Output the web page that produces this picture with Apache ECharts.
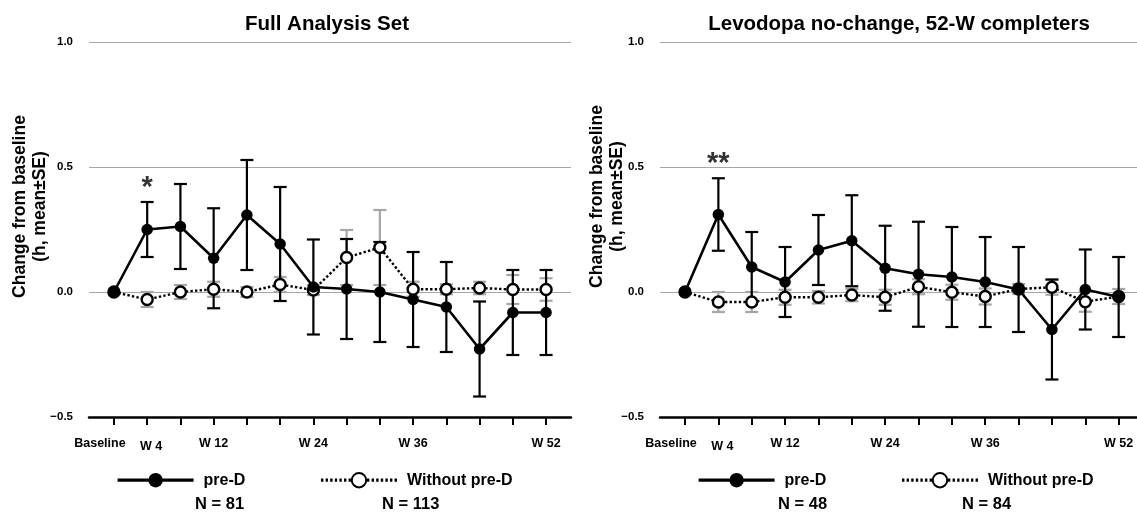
<!DOCTYPE html>
<html>
<head>
<meta charset="utf-8">
<script src="https://cdn.jsdelivr.net/npm/echarts@6/dist/echarts.min.js"></script>
<style>html,body{margin:0;padding:0;background:#fff}#c{width:1137px;height:512px}</style>
</head>
<body>
<div id="c"></div>
<script>
// ---- data ----
const weeks = [0, 4, 8, 12, 16, 20, 24, 28, 32, 36, 40, 44, 48, 52];
const labelWeeks = [0, 4, 12, 24, 36, 52];
const labelText = {0: 'Baseline', 4: 'W 4', 12: 'W 12', 24: 'W 24', 36: 'W 36', 52: 'W 52'};
const yTicks = [-0.5, 0, 0.5, 1.0];

// Full Analysis Set
const fasPreD     = [0, 0.250, 0.262, 0.135, 0.308, 0.192, 0.020, 0.012, 0.000, -0.030, -0.060, -0.228, -0.082, -0.082];
const fasPreDSE   = [0, 0.110, 0.170, 0.200, 0.220, 0.228, 0.190, 0.200, 0.200, 0.190, 0.180, 0.190, 0.170, 0.170];
const fasNoD      = [0, -0.030, 0.000, 0.011, 0.000, 0.030, 0.008, 0.138, 0.178, 0.011, 0.011, 0.016, 0.010, 0.010];
const fasNoDSE    = [0, 0.030, 0.028, 0.030, 0.020, 0.030, 0.020, 0.110, 0.150, 0.030, 0.020, 0.025, 0.058, 0.045];

// Levodopa no-change, 52-W completers
const lncPreD     = [0, 0.310, 0.100, 0.040, 0.168, 0.205, 0.095, 0.071, 0.060, 0.040, 0.010, -0.150, 0.010, -0.020];
const lncPreDSE   = [0, 0.145, 0.140, 0.140, 0.140, 0.182, 0.170, 0.210, 0.200, 0.180, 0.170, 0.200, 0.160, 0.160];
const lncNoD      = [0, -0.040, -0.040, -0.021, -0.021, -0.012, -0.021, 0.021, -0.001, -0.018, 0.012, 0.019, -0.039, -0.018];
const lncNoDSE    = [0, 0.040, 0.040, 0.030, 0.025, 0.025, 0.030, 0.030, 0.030, 0.032, 0.020, 0.030, 0.040, 0.030];

const titles = ['Full Analysis Set', 'Levodopa no-change, 52-W completers'];
const seriesNames = ['pre-D', 'Without pre-D'];
const nLabels = [['N = 81', 'N = 113'], ['N = 48', 'N = 84']];
const sigMarks = [{week: 4, text: '*'}, {week: 4, text: '**'}];

// ---- helpers ----
const FONT = '"Liberation Sans", Arial, sans-serif';
function pts(vals) { return weeks.map((w, i) => [w, vals[i]]); }
function errs(vals, se) {
  const out = [];
  weeks.forEach((w, i) => { if (se[i] > 0) out.push([w, vals[i] - se[i], vals[i] + se[i]]); });
  return out;
}
function errRender(color, cap) {
  return function (params, api) {
    const x = api.value(0);
    const pLo = api.coord([x, api.value(1)]);
    const pHi = api.coord([x, api.value(2)]);
    const style = {stroke: color, lineWidth: 2.2};
    return {type: 'group', children: [
      {type: 'line', shape: {x1: pLo[0], y1: pLo[1], x2: pHi[0], y2: pHi[1]}, style: style},
      {type: 'line', shape: {x1: pHi[0] - cap, y1: pHi[1], x2: pHi[0] + cap, y2: pHi[1]}, style: style},
      {type: 'line', shape: {x1: pLo[0] - cap, y1: pLo[1], x2: pLo[0] + cap, y2: pLo[1]}, style: style}
    ]};
  };
}

const panels = [
  {pre: fasPreD, preSE: fasPreDSE, no: fasNoD, noSE: fasNoDSE},
  {pre: lncPreD, preSE: lncPreDSE, no: lncNoD, noSE: lncNoDSE}
];
// right panel is cut by the picture edge: its axis runs to week 54.2 there
const grids = [
  {left: 89, top: 42, width: 482, height: 375, xMax: 55, nameGap: 39},
  {left: 660, top: 42, width: 477, height: 375, xMax: 54.2, nameGap: 33}
];

const xAxes = grids.map((g, i) => ({
  type: 'value', gridIndex: i, min: -3, max: g.xMax,
  axisLine: {show: true, onZero: false, lineStyle: {color: '#000', width: 2.5}},
  axisTick: {show: true, customValues: weeks, length: 8, lineStyle: {color: '#000', width: 2}},
  splitLine: {show: false},
  axisLabel: {
    customValues: labelWeeks, margin: 20, color: '#000', fontFamily: FONT, fontWeight: 'bold', fontSize: 12.5,
    formatter: v => v === 0 ? '{b|' + labelText[v] + '}' : (v === 4 ? '{w|' + labelText[v] + '}' : labelText[v]),
    rich: {
      b: {padding: [0, 28, 0, 0], fontFamily: FONT, fontWeight: 'bold', fontSize: 12.5, color: '#000'},
      w: {padding: [3, 0, 0, 8], fontFamily: FONT, fontWeight: 'bold', fontSize: 12.5, color: '#000'}
    }
  }
}));
const yAxes = grids.map((g, i) => ({
  type: 'value', gridIndex: i, min: yTicks[0], max: yTicks[yTicks.length - 1], interval: 0.5,
  axisLine: {show: false}, axisTick: {show: false},
  splitLine: {show: true, lineStyle: {color: '#a6a6a6', width: 1.2}},
  axisLabel: {
    margin: 16, color: '#000', fontFamily: FONT, fontWeight: 'bold', fontSize: 11.5,
    formatter: v => (v < 0 ? '\u2212' : '') + Math.abs(v).toFixed(1)
  },
  name: 'Change from baseline\n(h, mean\u00b1SE)',
  nameLocation: 'middle', nameRotate: 90, nameGap: g.nameGap, nameMoveOverlap: false,
  nameTextStyle: {fontFamily: FONT, fontWeight: 'bold', fontSize: 17.5, color: '#000', lineHeight: 20,
                  padding: [0, 0, 0, i === 0 ? 46 : 66]}
}));

const series = [];
panels.forEach((p, i) => {
  const si = weeks.indexOf(sigMarks[i].week);
  series.push({
    type: 'custom', xAxisIndex: i, yAxisIndex: i, z: 2, silent: true,
    renderItem: errRender('#a6a6a6', 6.5), encode: {x: 0, y: [1, 2]},
    data: errs(p.no, p.noSE)
  });
  series.push({
    type: 'custom', xAxisIndex: i, yAxisIndex: i, z: 3, silent: true,
    renderItem: errRender('#000', 6.5), encode: {x: 0, y: [1, 2]},
    data: errs(p.pre, p.preSE)
  });
  series.push({
    name: seriesNames[1], type: 'line', xAxisIndex: i, yAxisIndex: i, z: 4,
    data: pts(p.no), symbol: 'circle', symbolSize: 11, showAllSymbol: true,
    lineStyle: {color: '#000', width: 2.4, type: [2.4, 2.2]},
    itemStyle: {color: '#fff', borderColor: '#000', borderWidth: 2.4}
  });
  series.push({
    name: seriesNames[0], type: 'line', xAxisIndex: i, yAxisIndex: i, z: 5,
    data: pts(p.pre), symbol: 'circle', symbolSize: 11.5, showAllSymbol: true,
    lineStyle: {color: '#000', width: 2.6},
    itemStyle: {color: '#000'}
  });
  series.push({
    type: 'scatter', xAxisIndex: i, yAxisIndex: i, z: 6, silent: true, symbolSize: 0,
    data: [[sigMarks[i].week, p.pre[si] + p.preSE[si]]],
    label: {show: true, position: 'top', distance: 0, formatter: () => sigMarks[i].text,
            fontFamily: FONT, fontWeight: 'bold', fontSize: 29, color: '#000'}
  });
});

const legendCommon = {
  orient: 'horizontal', top: 467, itemWidth: 76, itemHeight: 18, itemGap: 74,
  data: seriesNames, selectedMode: false,
  textStyle: {fontFamily: FONT, fontWeight: 'bold', fontSize: 16, color: '#000', padding: [0, 0, 0, 5]},
  lineStyle: {width: 3.2}
};

const titleStyle = {fontFamily: FONT, fontWeight: 'bold', fontSize: 20.5, color: '#000'};
const nFont = 'bold 16.5px ' + FONT;

const option = {
  animation: false,
  backgroundColor: '#fff',
  title: [
    {text: titles[0], left: 322, top: 9, textAlign: 'center', textStyle: titleStyle},
    {text: titles[1], left: 894, top: 9, textAlign: 'center', textStyle: titleStyle}
  ],
  grid: grids.map(g => ({left: g.left, top: g.top, width: g.width, height: g.height})),
  xAxis: xAxes,
  yAxis: yAxes,
  legend: [
    Object.assign({}, legendCommon, {left: 111}),
    Object.assign({}, legendCommon, {left: 692})
  ],
  graphic: [
    {type: 'text', left: 195, top: 496, style: {text: nLabels[0][0], font: nFont, fill: '#000'}},
    {type: 'text', left: 382, top: 496, style: {text: nLabels[0][1], font: nFont, fill: '#000'}},
    {type: 'text', left: 778, top: 496, style: {text: nLabels[1][0], font: nFont, fill: '#000'}},
    {type: 'text', left: 962, top: 496, style: {text: nLabels[1][1], font: nFont, fill: '#000'}}
  ],
  series: series
};

const chart = echarts.init(document.getElementById('c'));
chart.setOption(option);
</script>
</body>
</html>
